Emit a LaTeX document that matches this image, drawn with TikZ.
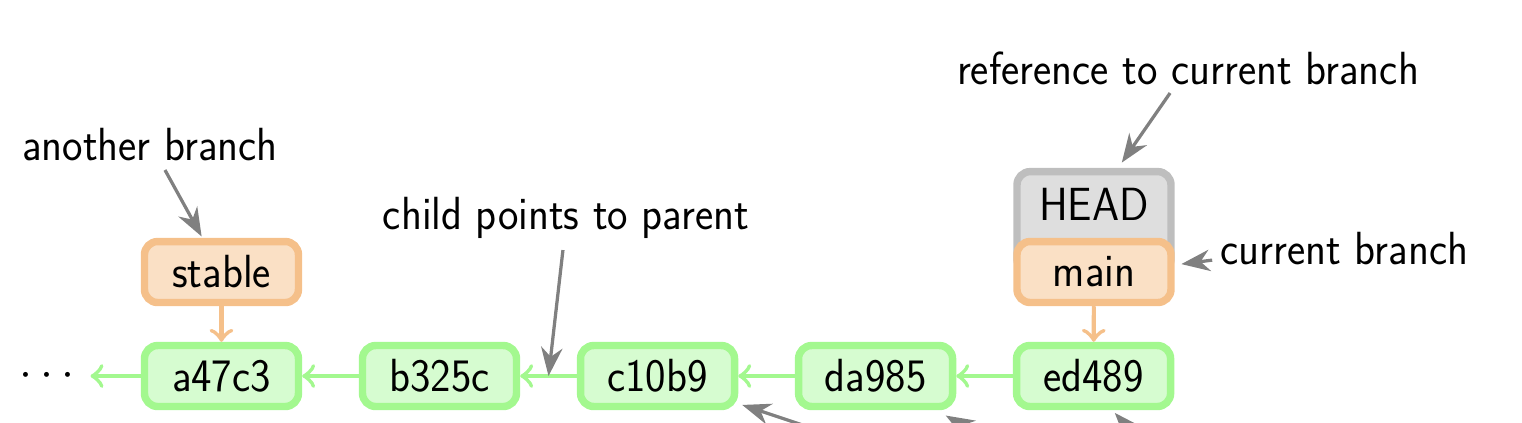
\documentclass[tikz,border=0pt]{standalone}
\usepackage{fontspec}
\newfontfamily\gitfont{lmsans17-regular.otf}[FakeStretch=0.933]
\usetikzlibrary{arrows.meta,positioning,calc}
\definecolor{commitline}{RGB}{163,248,143}
\definecolor{commitfill}{RGB}{214,252,208}
\definecolor{branchline}{RGB}{245,192,138}
\definecolor{branchfill}{RGB}{250,224,197}
\definecolor{headline}{RGB}{190,190,190}
\definecolor{headfill}{RGB}{222,222,222}
\definecolor{notegray}{RGB}{128,128,128}
\begin{document}
\begin{tikzpicture}[font=\gitfont,
  box/.style={rounded corners=0.1cm, line width=1.6pt, minimum width=1.164cm, minimum height=0.461cm, inner sep=0pt},
  commit/.style={box, draw=commitline, fill=commitfill},
  branch/.style={box, draw=branchline, fill=branchfill},
  headbox/.style={box, draw=headline, fill=headfill},
  parent/.style={-to, commitline, line width=0.9pt},
  points/.style={-to, branchline, line width=0.9pt},
  note/.style={-Stealth, notegray, line width=0.7pt}]
 \clip (0,0) rectangle (11.504,3.19);
 % commits
 \foreach \name [count=\i] in {a47c3,b325c,c10b9,da985,ed489}
 {
     \node[commit] (\name) at ({1.674+1.648*(\i-1)},0.348) {\name};
 }
 \node (dots) at (0.355,0.348) {$\cdots$};
 \draw[parent] (a47c3) -- (dots);
 \foreach \a/\b in {a47c3/b325c,b325c/c10b9,c10b9/da985,da985/ed489}
 {
     \draw[parent] (\b) -- (\a);
 }
 % branches
 \node[headbox, text height=0.366cm, text depth=0.393cm, anchor=base] (HEAD) at (8.269,1.527) {HEAD};
 \node[branch] (stable) at (1.674,1.134) {stable};
 \node[branch] (main) at (8.269,1.134) {main};
 \draw[points] (stable) -- (a47c3);
 \draw[points] (main) -- (ed489);
 % notes
 \node (another) at (1.134,2.094) {another branch};
 \node (child) at (4.278,1.542) {child points to parent};
 \node (reference) at (8.98,2.676) {reference to current branch};
 \node (current) at (10.16,1.315) {current branch};
 \coordinate (mid) at ($(b325c.east)!0.5!(c10b9.west)$);
 \draw[note] ($(another)+(0.113,-0.189)$) -- ($(stable.north)+(-0.15,0.01)$);
 \draw[note] ($(child)+(-0.023,-0.242)$) -- (mid);
 \draw[note] ($(reference)+(-0.136,-0.189)$) -- ($(HEAD.north)+(0.21,0.04)$);
 \draw[note] ($(current)+(-0.998,-0.091)$) -- ($(main.east)+(0.05,0.06)$);
 % notes from below
 \coordinate (low1) at (6.27,-0.09);
 \coordinate (low2) at (7.37,-0.08);
 \coordinate (low3) at (8.56,-0.08);
 \draw[note] (low1) -- ($(c10b9.south east)+(0.03,0.04)$);
 \draw[note] (low2) -- ($(da985.south east)+(-0.08,-0.04)$);
 \draw[note] (low3) -- ($(ed489.south)+(0.16,-0.02)$);
\end{tikzpicture}
\end{document}
